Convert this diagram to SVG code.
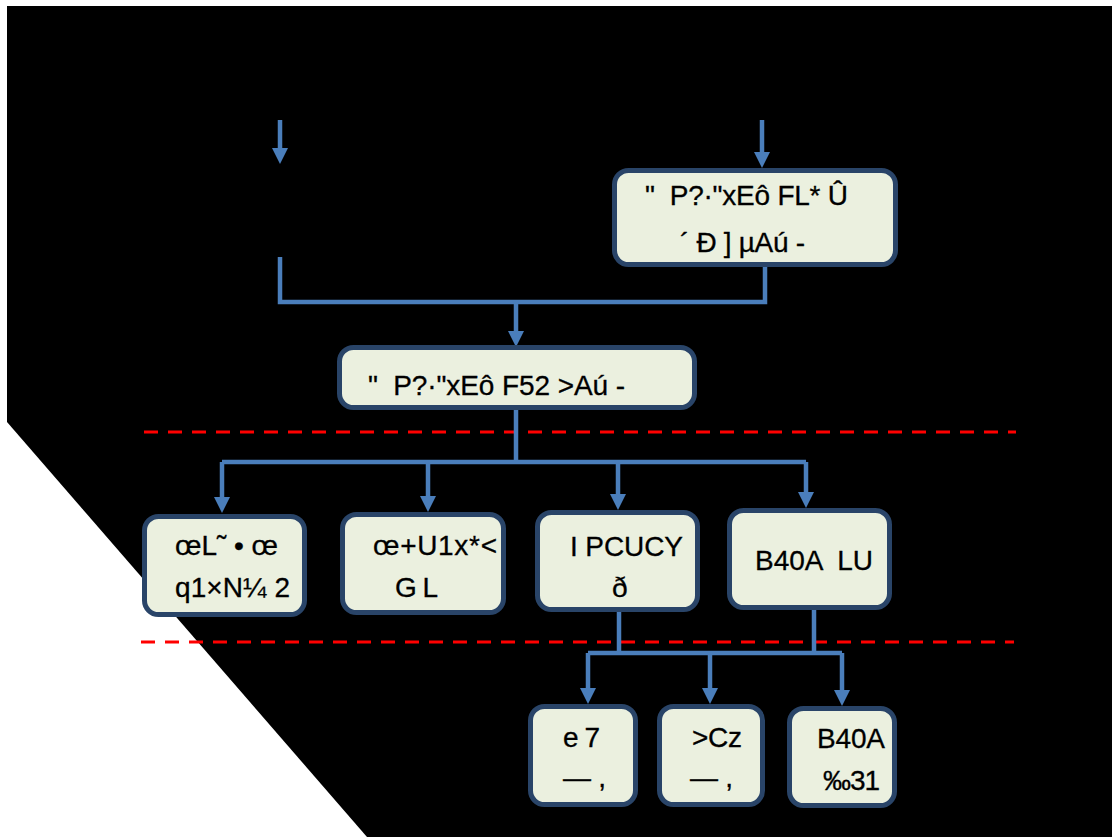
<svg xmlns="http://www.w3.org/2000/svg" width="1112" height="837" viewBox="0 0 1112 837">
  <style>
    .box { fill: #ebf0df; stroke: #294468; stroke-width: 5; }
    .lbl { font-family: "Liberation Sans", Arial, sans-serif; font-size: 28px; fill: #000; stroke: #000; stroke-width: 0.3; white-space: pre; }
    .con { fill: none; stroke: #4a7ebb; stroke-width: 4.5; }
    .sep { fill: none; stroke: #ff0000; stroke-width: 3; stroke-dasharray: 14 10; }
  </style>
  <defs>
    <marker id="arr" markerUnits="userSpaceOnUse" viewBox="0 0 16 16" refX="0" refY="8" markerWidth="16" markerHeight="16" orient="auto">
      <path d="M0,0 L16,8 L0,16 z" fill="#4a7ebb"/>
    </marker>
  </defs>

  <rect x="0" y="0" width="1112" height="837" fill="#ffffff"/>
  <polygon points="7,6 1112,6 1112,837 367,837 7,422" fill="#000000"/>

  <g id="separators">
    <line class="sep" x1="144" y1="432" x2="1016" y2="432"/>
    <line class="sep" x1="141" y1="642" x2="1014" y2="642"/>
  </g>

  <g id="connectors">
    <path class="con" d="M280,120 V148" marker-end="url(#arr)"/>
    <path class="con" d="M762,120 V152" marker-end="url(#arr)"/>
    <path class="con" d="M280,257 V302 H765 V267"/>
    <path class="con" d="M516,302 V331" marker-end="url(#arr)"/>
    <path class="con" d="M516,410 V462"/>
    <path class="con" d="M222,462 H806"/>
    <path class="con" d="M222,462 V497" marker-end="url(#arr)"/>
    <path class="con" d="M428,462 V496" marker-end="url(#arr)"/>
    <path class="con" d="M618,462 V494" marker-end="url(#arr)"/>
    <path class="con" d="M806,462 V492" marker-end="url(#arr)"/>
    <path class="con" d="M619,612 V653"/>
    <path class="con" d="M814,610 V653"/>
    <path class="con" d="M588,653 H842"/>
    <path class="con" d="M588,653 V688" marker-end="url(#arr)"/>
    <path class="con" d="M710,653 V688" marker-end="url(#arr)"/>
    <path class="con" d="M842,653 V690" marker-end="url(#arr)"/>
  </g>

  <g id="node-top">
    <rect class="box" x="614.5" y="170.5" width="281" height="94" rx="14"/>
    <text class="lbl" x="645" y="205" textLength="203" lengthAdjust="spacing">"  P?·"xEô FL* Û</text>
    <text class="lbl" x="680" y="252" textLength="125" lengthAdjust="spacing">´ Ð ] µAú -</text>
  </g>

  <g id="node-mid">
    <rect class="box" x="339.5" y="347.5" width="355" height="60" rx="14"/>
    <text class="lbl" x="368" y="395" textLength="257" lengthAdjust="spacing">"  P?·"xEô F52 &gt;Aú -</text>
  </g>

  <g id="node-a">
    <rect class="box" x="144.5" y="516.5" width="160" height="98" rx="14"/>
    <text class="lbl" x="175" y="555" textLength="103" lengthAdjust="spacing">œL˜ • œ</text>
    <text class="lbl" x="175" y="597" textLength="115" lengthAdjust="spacing">q1×N¼ 2</text>
  </g>

  <g id="node-b">
    <rect class="box" x="342.5" y="514.5" width="161" height="98" rx="14"/>
    <text class="lbl" x="373" y="555" textLength="124" lengthAdjust="spacing">œ+U1x*&lt;</text>
    <text class="lbl" x="395" y="597" textLength="43" lengthAdjust="spacing">G L</text>
  </g>

  <g id="node-c">
    <rect class="box" x="537.5" y="512.5" width="160" height="97" rx="14"/>
    <text class="lbl" x="570" y="556" textLength="113" lengthAdjust="spacing">I PCUCY</text>
    <text class="lbl" x="612" y="597">ð</text>
  </g>

  <g id="node-d">
    <rect class="box" x="729.5" y="510.5" width="160" height="97" rx="14"/>
    <text class="lbl" x="755" y="570" textLength="118" lengthAdjust="spacing">B40A  LU</text>
  </g>

  <g id="node-e">
    <rect class="box" x="530.5" y="706.5" width="105" height="98" rx="14"/>
    <text class="lbl" x="563" y="747" textLength="37" lengthAdjust="spacing">e 7</text>
    <text class="lbl" x="563" y="787" textLength="43" lengthAdjust="spacing">— ,</text>
  </g>

  <g id="node-f">
    <rect class="box" x="659.5" y="706.5" width="103" height="98" rx="14"/>
    <text class="lbl" x="692" y="747" textLength="50" lengthAdjust="spacing">&gt;Cz</text>
    <text class="lbl" x="690" y="787" textLength="43" lengthAdjust="spacing">— ,</text>
  </g>

  <g id="node-g">
    <rect class="box" x="789.5" y="708.5" width="105" height="97" rx="14"/>
    <text class="lbl" x="817" y="748" textLength="68" lengthAdjust="spacing">B40A</text>
    <text class="lbl" x="823" y="790" textLength="57" lengthAdjust="spacing">‰31</text>
  </g>
</svg>
